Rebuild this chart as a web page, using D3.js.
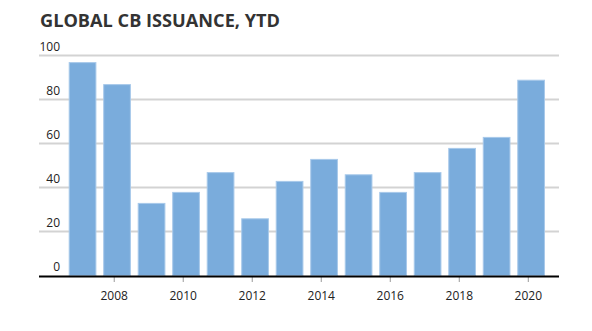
<!DOCTYPE html>
<html>
<head>
<meta charset="utf-8">
<script src="https://cdn.jsdelivr.net/npm/d3@7"></script>
<style>
  html, body { margin: 0; padding: 0; background: #fff; }
  svg { display: block; font-family: "Open Sans", sans-serif; }
</style>
</head>
<body>
<svg id="chart" width="592" height="331"></svg>
<script>
const title = "GLOBAL CB ISSUANCE, YTD";
const years = [2007, 2008, 2009, 2010, 2011, 2012, 2013, 2014, 2015, 2016, 2017, 2018, 2019, 2020];
const values = [97, 87, 33, 38, 47, 26, 43, 53, 46, 38, 47, 58, 63, 89];
const yTicks = [0, 20, 40, 60, 80, 100];
const xTicks = [2008, 2010, 2012, 2014, 2016, 2018, 2020];

const svg = d3.select("#chart");
const x = d3.scaleLinear().domain([2005.82, 2020.89]).range([39, 559]);
const y = d3.scaleLinear().domain([0, 100]).range([275.5, 55.5]);
const barW = 27.7;
const barOffset = 0.082;

svg.append("text")
  .attr("x", 40).attr("y", 27)
  .attr("font-size", 18).attr("font-weight", 700)
  .attr("fill", "#333")
  .attr("textLength", 240).attr("lengthAdjust", "spacingAndGlyphs")
  .text(title);

// gridlines
svg.append("g").selectAll("line").data(yTicks.filter(d => d > 0)).join("line")
  .attr("x1", 39).attr("x2", 559)
  .attr("y1", d => y(d)).attr("y2", d => y(d))
  .attr("stroke", "#d3d3d3").attr("stroke-width", 2);

// y labels
svg.append("g").selectAll("text").data(yTicks).join("text")
  .attr("x", 60).attr("y", d => y(d) - 5)
  .attr("text-anchor", "end")
  .attr("font-size", 12).attr("fill", "#222")
  .text(d => d);

// bars
svg.append("g").selectAll("rect").data(years).join("rect")
  .attr("x", (d) => x(d + barOffset) - barW / 2 + 0.5)
  .attr("width", barW - 1)
  .attr("y", (d, i) => y(values[i]) + 0.5)
  .attr("height", (d, i) => y(0) - y(values[i]) - 0.5)
  .attr("fill", "#7aacdc")
  .attr("stroke", "#a8c9ea").attr("stroke-width", 1);

// x axis ticks
svg.append("g").selectAll("line").data(xTicks).join("line")
  .attr("x1", d => x(d)).attr("x2", d => x(d))
  .attr("y1", 276).attr("y2", 282)
  .attr("stroke", "#999").attr("stroke-width", 1);

svg.append("g").selectAll("text").data(xTicks).join("text")
  .attr("x", d => x(d)).attr("y", 300)
  .attr("text-anchor", "middle")
  .attr("font-size", 12).attr("fill", "#222")
  .text(d => d);

// baseline
svg.append("line")
  .attr("x1", 39).attr("x2", 559)
  .attr("y1", y(0) + 1).attr("y2", y(0) + 1)
  .attr("stroke", "#000").attr("stroke-width", 2);
</script>
</body>
</html>
